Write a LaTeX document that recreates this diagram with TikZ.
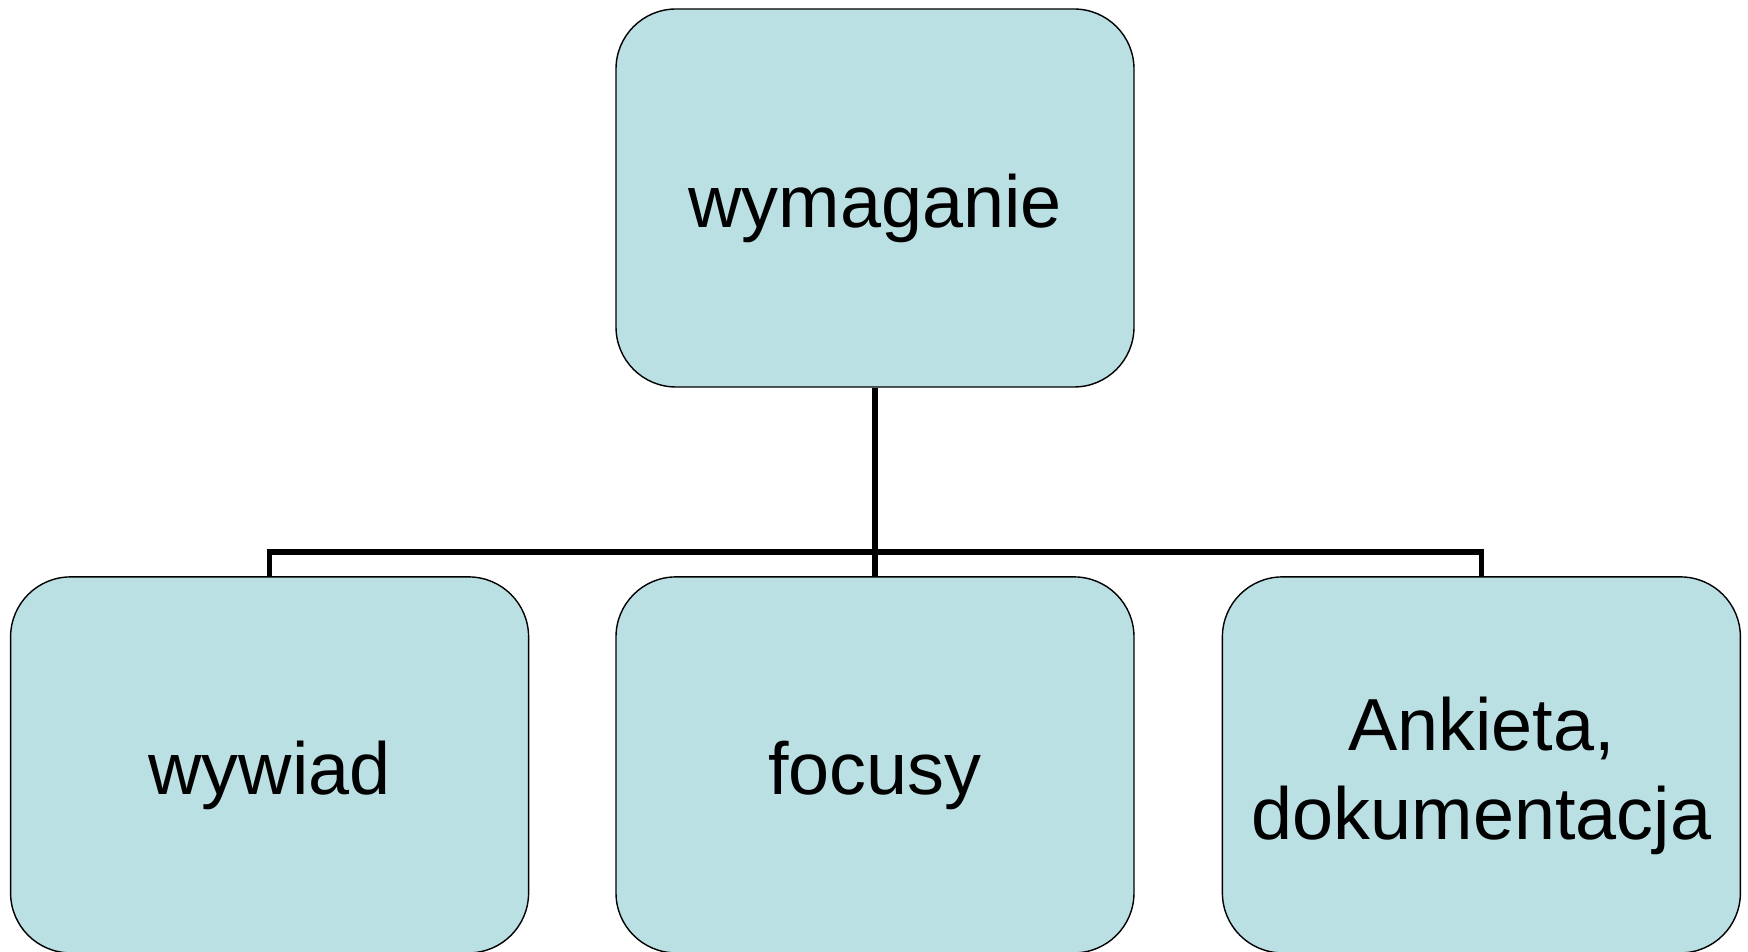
\documentclass[tikz,border=0pt]{standalone}
\usepackage{fontspec}
\setmainfont{Liberation Sans}
\usetikzlibrary{positioning}
\definecolor{boxfill}{HTML}{BBE0E3}

\begin{document}
\begin{tikzpicture}[thick,
  box/.style={rectangle, rounded corners=0.6cm, draw=black, line width=0.4pt,
    fill=boxfill, minimum width=5.18cm, minimum height=3.76cm, inner sep=0pt,
    font=\fontsize{21}{25.3}\selectfont, align=center,
    text height=0.78cm, text depth=0.18cm},
  conn/.style={line width=1.6pt}]
  \useasboundingbox (0,0) rectangle (17.48,9.52);

  \node[box,minimum height=3.78cm] (req) at (8.75,7.54) {wymaganie};
  \node[box,below=1.885cm of req]  (focus) {focusy};
  \node[box,left=0.86cm of focus]  (interview) {wywiad};
  \node[box,right=0.87cm of focus,text height=1.67cm] (survey) {Ankieta,\\dokumentacja};

  \draw[conn] (req) -- (focus);
  \draw[conn] (interview.north) -- ++(0,0.245) -| (survey.north);
\end{tikzpicture}
\end{document}
